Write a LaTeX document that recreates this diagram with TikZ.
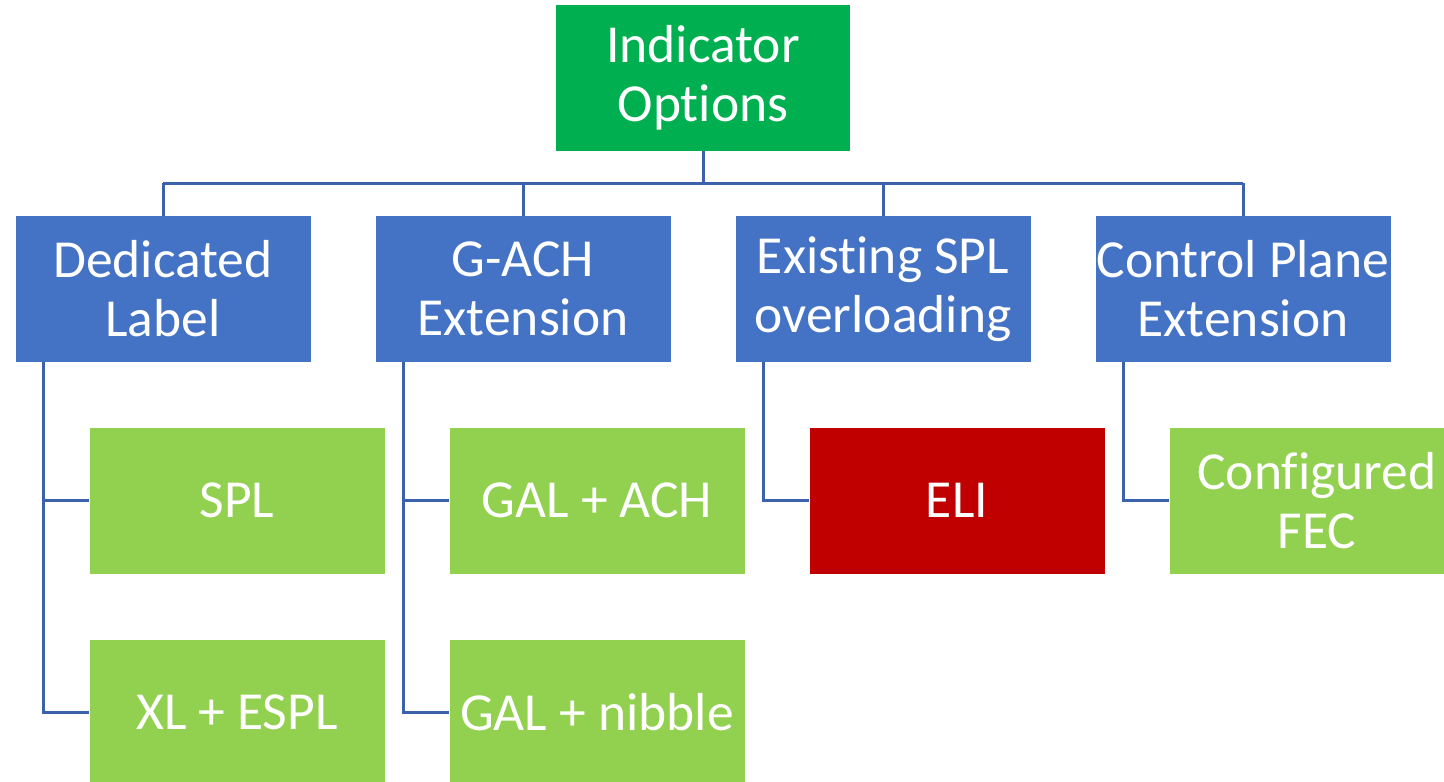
\documentclass[tikz,border=0pt]{standalone}
\usepackage{fontspec}
\setmainfont{Carlito}[Ligatures={NoCommon,NoContextual},Contextuals=NoAlternate]
\usetikzlibrary{positioning, calc}

\definecolor{rootgreen}{HTML}{00B050}
\definecolor{catblue}{HTML}{4472C4}
\definecolor{leafgreen}{HTML}{92D050}
\definecolor{leafred}{HTML}{C00000}
\definecolor{wireblue}{RGB}{60,98,172}

\tikzset{
  box/.style={rectangle,draw=none,text=white,align=center,inner sep=0pt,
              minimum width=295pt,minimum height=146pt,
              font=\fontsize{53.5}{59}\selectfont},
  rootbox/.style={box,fill=rootgreen},
  catbox/.style={box,fill=catblue},
  leafbox/.style={box,fill=leafgreen},
  badbox/.style={box,fill=leafred},
  wire/.style={wireblue,line width=3pt}
}

\begin{document}
\begin{tikzpicture}[x=1pt,y=-1pt]
      \useasboundingbox (0,0) rectangle (1444,782);
      % root
      \node[rootbox,minimum width=294pt](top)at(703,78){Indicator\\Options};
      % first level
      \node[catbox](d1)at(163,289){Dedicated\\Label};
      \node[catbox](d2)at(523,289){G-ACH\\Extension};
      \node[catbox](d3)at(883,289){Existing SPL\\overloading};
      \node[catbox](d4)at(1243,289){Control Plane\\Extension};
      % leaves
      \node[leafbox](l1)at(237,500.5){SPL};
      \node[leafbox](l2)at(237,712.5){XL + ESPL};
      \node[leafbox](l3)at(597,500.5){GAL + ACH};
      \node[leafbox](l4)at(597,712.5){GAL + nibble};
      \node[badbox](l5)at(957,500.5){ELI};
      \node[leafbox](l6)at(1317,500.5){Configured\\FEC};
      % root to first level
      \coordinate (bus) at (703,183);
      \draw[wire](top.south)--(bus);
      \foreach \d in {d1,d2,d3,d4}
        \draw[wire](\d.north)--(\d.north|-bus);
      \draw[wire](d1.north|-bus)--(d4.north|-bus);
      % first level to leaves
      \draw[wire]($(d1.south west)+(28,0)$)|-(l1.west);
      \draw[wire]($(d1.south west)+(28,0)$)|-(l2.west);
      \draw[wire]($(d2.south west)+(28,0)$)|-(l3.west);
      \draw[wire]($(d2.south west)+(28,0)$)|-(l4.west);
      \draw[wire]($(d3.south west)+(28,0)$)|-(l5.west);
      \draw[wire]($(d4.south west)+(28,0)$)|-(l6.west);
\end{tikzpicture}
\end{document}
